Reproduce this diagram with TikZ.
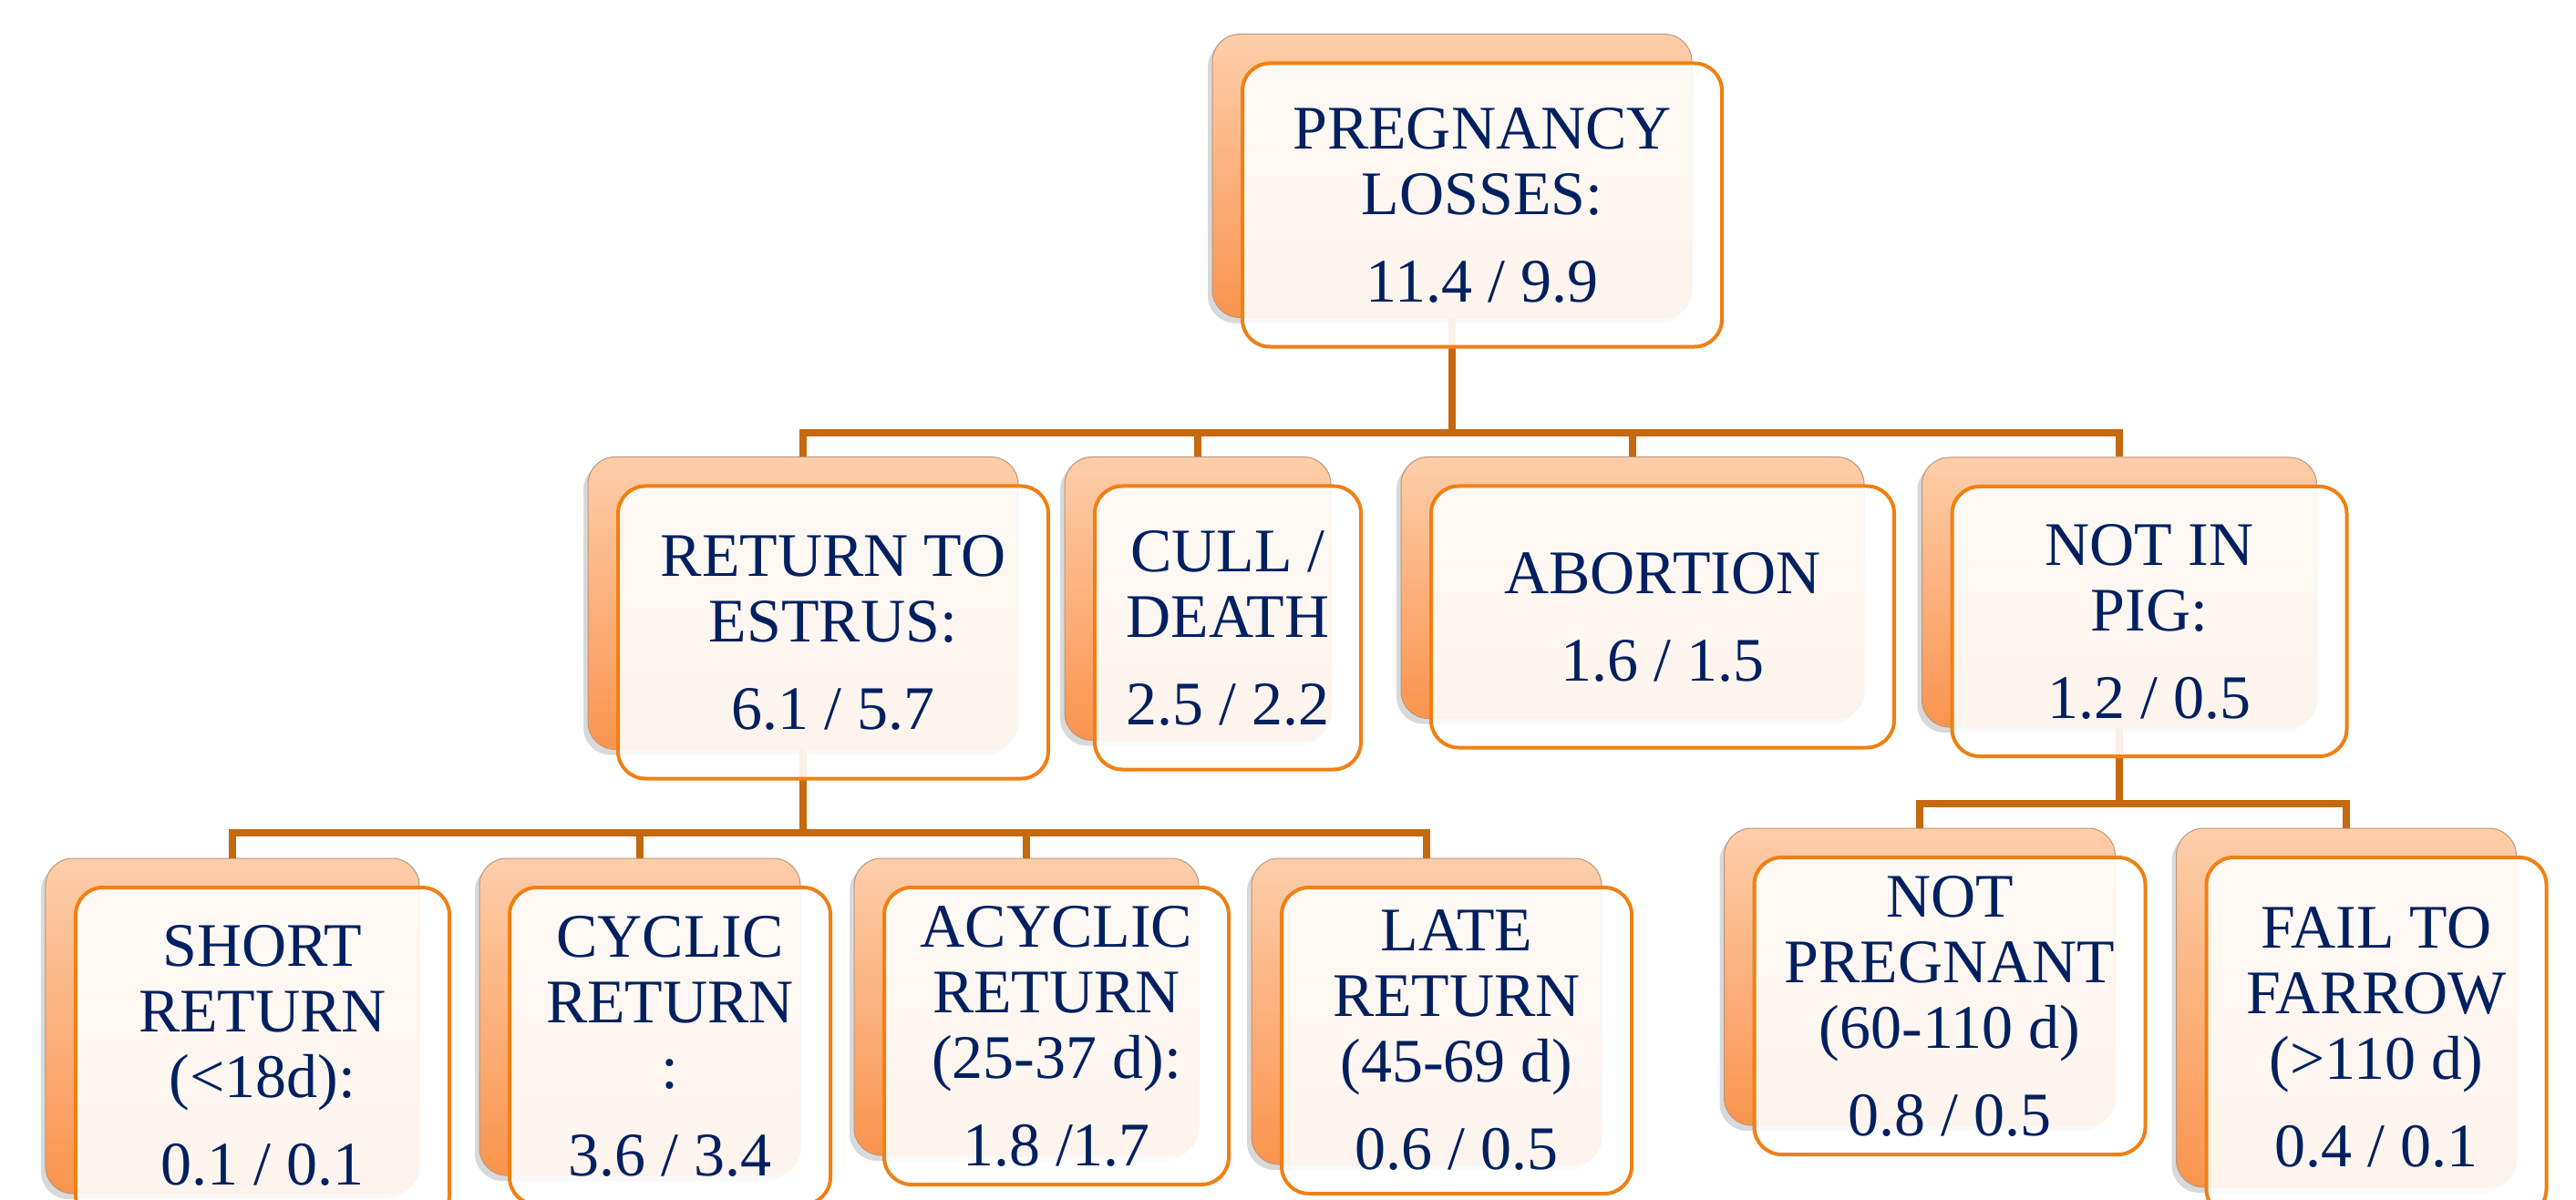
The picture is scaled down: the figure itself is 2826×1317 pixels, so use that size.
\documentclass[tikz,border=0pt]{standalone}
\usepackage{fontspec}
\setmainfont{Liberation Serif}
\usetikzlibrary{shadows}

\definecolor{backtop}{RGB}{253,206,170}
\definecolor{backbot}{RGB}{250,148,78}
\definecolor{backedge}{RGB}{185,150,125}
\definecolor{frontline}{RGB}{240,128,20}
\definecolor{linkcol}{RGB}{198,104,14}
\definecolor{navy}{RGB}{0,32,96}

\tikzset{
  backbox/.style={rounded corners=30bp, draw=backedge, line width=1bp,
    top color=backtop, bottom color=backbot, inner sep=0pt,
    drop shadow={shadow xshift=-5bp, shadow yshift=-6bp, opacity=0.3}},
  frontbox/.style={rounded corners=30bp, draw=frontline, line width=4bp,
    fill=white, fill opacity=0.9, text opacity=1, text=navy, align=center,
    inner sep=0pt, font=\fontsize{68bp}{72bp}\selectfont},
  link/.style={draw=linkcol, line width=8bp},
}

\begin{document}
\begin{tikzpicture}[x=1bp,y=-1bp]
  \useasboundingbox (0,0) rectangle (2826,1317);
  \clip (0,0) rectangle (2826,1317);

  \pgfmathsetmacro{\offx}{33}
  \pgfmathsetmacro{\offy}{32}

  % back cards
  \node[backbox, minimum width=526bp, minimum height=311bp] (lossb) at (1593,193) {};
  \node[backbox, minimum width=472bp, minimum height=321bp] (retb) at (881,662) {};
  \node[backbox, minimum width=292bp, minimum height=311bp] (cullb) at (1314,657) {};
  \node[backbox, minimum width=508bp, minimum height=287bp] (abortb) at (1791,645) {};
  \node[backbox, minimum width=433bp, minimum height=296bp] (pigb) at (2325,650) {};
  \node[backbox, minimum width=410bp, minimum height=368bp] (shortb) at (255,1126) {};
  \node[backbox, minimum width=352bp, minimum height=348bp] (cyclicb) at (702,1116) {};
  \node[backbox, minimum width=378bp, minimum height=326bp] (acyclicb) at (1126,1105) {};
  \node[backbox, minimum width=384bp, minimum height=336bp] (lateb) at (1565,1110) {};
  \node[backbox, minimum width=429bp, minimum height=326bp] (notpregb) at (2106,1072) {};
  \node[backbox, minimum width=373bp, minimum height=394bp] (farrowb) at (2574,1106) {};

  % connectors
  \coordinate (bartop) at (0,475);
  \coordinate (barleft) at (0,914);
  \coordinate (barright) at (0,882);
  \foreach \kid in {retb,cullb,abortb,pigb}{
      \draw[link] (lossb.south) |- (\kid.north |- bartop) -- (\kid.north);
  }
  \foreach \kid in {shortb,cyclicb,acyclicb,lateb}{
      \draw[link] (retb.south) |- (\kid.north |- barleft) -- (\kid.north);
  }
  \foreach \kid in {notpregb,farrowb}{
      \draw[link] (pigb.south) |- (\kid.north |- barright) -- (\kid.north);
  }

  % front cards
  \node[frontbox, minimum width=526bp, minimum height=311bp] (loss) at (1593+\offx,193+\offy)
      {PREGNANCY\\LOSSES:\\[24bp]11.4 / 9.9};
  \node[frontbox, minimum width=472bp, minimum height=321bp] (ret) at (881+\offx,662+\offy)
      {RETURN TO\\ESTRUS:\\[24bp]6.1 / 5.7};
  \node[frontbox, minimum width=292bp, minimum height=311bp] (cull) at (1314+\offx,657+\offy)
      {CULL /\\DEATH\\[24bp]2.5 / 2.2};
  \node[frontbox, minimum width=508bp, minimum height=287bp] (abort) at (1791+\offx,645+\offy)
      {ABORTION\\[24bp]1.6 / 1.5};
  \node[frontbox, minimum width=433bp, minimum height=296bp] (pig) at (2325+\offx,650+\offy)
      {NOT IN\\PIG:\\[24bp]1.2 / 0.5};
  \node[frontbox, minimum width=410bp, minimum height=368bp] (short) at (255+\offx,1126+\offy)
      {SHORT\\RETURN\\(<18d):\\[24bp]0.1 / 0.1};
  \node[frontbox, minimum width=352bp, minimum height=348bp] (cyclic) at (702+\offx,1116+\offy)
      {CYCLIC\\RETURN\\:\\[24bp]3.6 / 3.4};
  \node[frontbox, minimum width=378bp, minimum height=326bp] (acyclic) at (1126+\offx,1105+\offy)
      {ACYCLIC\\RETURN\\(25-37 d):\\[24bp]1.8 /1.7};
  \node[frontbox, minimum width=384bp, minimum height=336bp] (late) at (1565+\offx,1110+\offy)
      {LATE\\RETURN\\(45-69 d)\\[24bp]0.6 / 0.5};
  \node[frontbox, minimum width=429bp, minimum height=326bp] (notpreg) at (2106+\offx,1072+\offy)
      {NOT\\PREGNANT\\(60-110 d)\\[24bp]0.8 / 0.5};
  \node[frontbox, minimum width=373bp, minimum height=394bp] (farrow) at (2574+\offx,1106+\offy)
      {FAIL TO\\FARROW\\(>110 d)\\[24bp]0.4 / 0.1};
\end{tikzpicture}
\end{document}
